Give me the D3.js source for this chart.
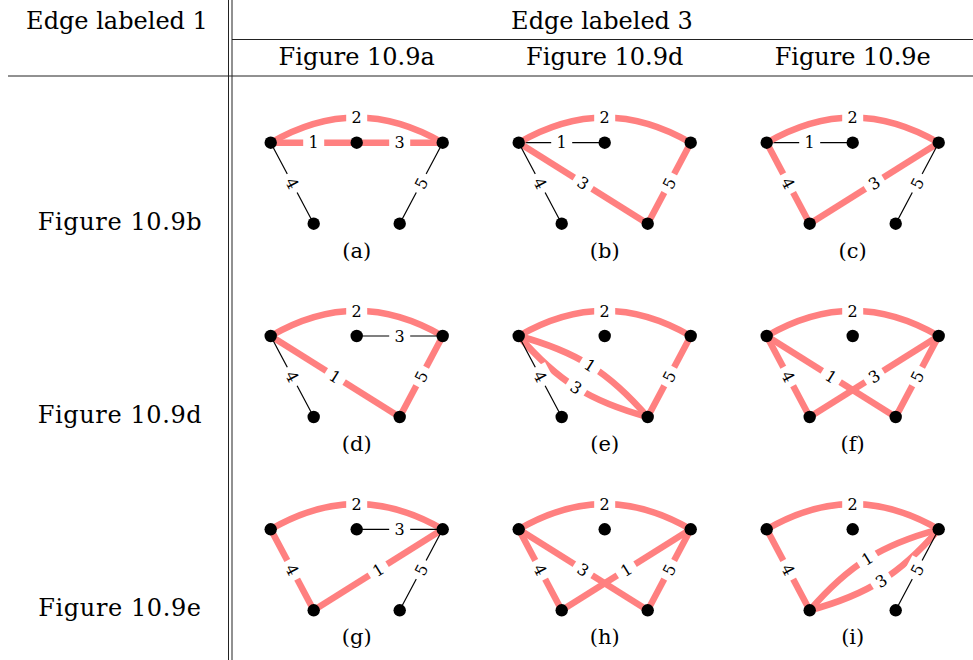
<!DOCTYPE html>
<html>
<head>
<meta charset="utf-8">
<script src="https://cdn.jsdelivr.net/npm/d3@7"></script>
<style>
  body { margin: 0; background: #fff; }
</style>
</head>
<body>
<svg id="chart" width="973" height="660"></svg>
<script>
const cornerHeader = 'Edge labeled 1';
const topHeader = 'Edge labeled 3';
const colHeaders = ['Figure 10.9a', 'Figure 10.9d', 'Figure 10.9e'];
const rowHeaders = ['Figure 10.9b', 'Figure 10.9d', 'Figure 10.9e'];
const captions = ['(a)', '(b)', '(c)', '(d)', '(e)', '(f)', '(g)', '(h)', '(i)'];

// five vertices on a small grid: top row left/mid/right, bottom row left/right
const nodeNames = ['TL', 'TM', 'TR', 'BL', 'BR'];
const nodeCol = [0, 2, 4, 1, 3];
const nodeRow = [1, 1, 1, 0, 0];

// per panel: [edge label, from, to, in the tree (1) or not (0), bend]
const panelEdges = [
  [[1, 'TL', 'TM', 1, ''], [2, 'TL', 'TR', 1, 'arc'], [3, 'TM', 'TR', 1, ''], [4, 'TL', 'BL', 0, ''], [5, 'TR', 'BR', 0, '']],
  [[1, 'TL', 'TM', 0, ''], [2, 'TL', 'TR', 1, 'arc'], [3, 'TL', 'BR', 1, ''], [4, 'TL', 'BL', 0, ''], [5, 'TR', 'BR', 1, '']],
  [[1, 'TL', 'TM', 0, ''], [2, 'TL', 'TR', 1, 'arc'], [3, 'BL', 'TR', 1, ''], [4, 'TL', 'BL', 1, ''], [5, 'TR', 'BR', 0, '']],
  [[1, 'TL', 'BR', 1, ''], [2, 'TL', 'TR', 1, 'arc'], [3, 'TM', 'TR', 0, ''], [4, 'TL', 'BL', 0, ''], [5, 'TR', 'BR', 1, '']],
  [[1, 'TL', 'BR', 1, 'left'], [2, 'TL', 'TR', 1, 'arc'], [3, 'TL', 'BR', 1, 'right'], [4, 'TL', 'BL', 0, ''], [5, 'TR', 'BR', 1, '']],
  [[1, 'TL', 'BR', 1, ''], [2, 'TL', 'TR', 1, 'arc'], [3, 'BL', 'TR', 1, ''], [4, 'TL', 'BL', 1, ''], [5, 'TR', 'BR', 1, '']],
  [[1, 'BL', 'TR', 1, ''], [2, 'TL', 'TR', 1, 'arc'], [3, 'TM', 'TR', 0, ''], [4, 'TL', 'BL', 1, ''], [5, 'TR', 'BR', 0, '']],
  [[1, 'BL', 'TR', 1, ''], [2, 'TL', 'TR', 1, 'arc'], [3, 'TL', 'BR', 1, ''], [4, 'TL', 'BL', 1, ''], [5, 'TR', 'BR', 1, '']],
  [[1, 'BL', 'TR', 1, 'left'], [2, 'TL', 'TR', 1, 'arc'], [3, 'BL', 'TR', 1, 'right'], [4, 'TL', 'BL', 1, ''], [5, 'TR', 'BR', 0, '']]
];

const svg = d3.select('#chart');
const W = 973, H = 660;
const serif = 'DejaVu Serif';

const colX = d3.scalePoint().domain(colHeaders).range([356.7, 852.7]);
const rowY = d3.scalePoint().domain(rowHeaders).range([142.7, 529.3]);
const gx = d3.scaleLinear().domain([0, 4]).range([-86, 86]);
const gy = d3.scaleLinear().domain([0, 1]).range([81, 0]);

const treeColor = '#ff8080';
const bendAngle = { arc: 30, left: 17, right: -17 };

// ---- table rules ----
const rules = svg.append('g').attr('stroke', '#222').attr('stroke-width', 1);
rules.append('line').attr('x1', 228.5).attr('x2', 228.5).attr('y1', 0).attr('y2', H);
rules.append('line').attr('x1', 232).attr('x2', 232).attr('y1', 0).attr('y2', H);
rules.append('line').attr('x1', 232).attr('x2', W).attr('y1', 39.5).attr('y2', 39.5);
rules.append('line').attr('x1', 8).attr('x2', W).attr('y1', 76).attr('y2', 76);

// ---- headers ----
const head = svg.append('g').attr('text-anchor', 'middle')
  .attr('font-family', serif).attr('font-size', 24);
head.append('text').attr('x', 117).attr('y', 29).text(cornerHeader);
head.append('text').attr('x', 602).attr('y', 29).text(topHeader);
head.selectAll('.colh').data(colHeaders).enter().append('text')
  .attr('class', 'colh')
  .attr('x', d => colX(d)).attr('y', 65).text(d => d);
head.selectAll('.rowh').data(rowHeaders).enter().append('text')
  .attr('class', 'rowh')
  .attr('letter-spacing', 0.6)
  .attr('x', 120).attr('y', d => rowY(d) + 87).text(d => d);

// ---- graph panels ----
function nodePos(name) {
  const i = nodeNames.indexOf(name);
  return [gx(nodeCol[i]), gy(nodeRow[i])];
}

function edgeGeom(e) {
  const p = nodePos(e[1]), q = nodePos(e[2]);
  const dx = q[0] - p[0], dy = q[1] - p[1];
  let ang = Math.atan2(dy, dx) * 180 / Math.PI;
  if (ang > 90) ang -= 180;
  if (ang <= -90) ang += 180;
  if (!e[4]) {
    return { d: `M${p}L${q}`, mx: (p[0] + q[0]) / 2, my: (p[1] + q[1]) / 2, ang };
  }
  // tikz style bend: cubic with controls at the bend angle, 0.3915 of the distance out
  const len = Math.hypot(dx, dy);
  const ux = dx / len, uy = dy / len, nx = uy, ny = -ux;
  const th = bendAngle[e[4]] * Math.PI / 180;
  const L = 0.3915 * len, c = Math.cos(th), s = Math.sin(th);
  const c1 = [p[0] + L * (c * ux + s * nx), p[1] + L * (c * uy + s * ny)];
  const c2 = [q[0] + L * (-c * ux + s * nx), q[1] + L * (-c * uy + s * ny)];
  const path = d3.path();
  path.moveTo(p[0], p[1]);
  path.bezierCurveTo(c1[0], c1[1], c2[0], c2[1], q[0], q[1]);
  return {
    d: path.toString(),
    mx: (p[0] + 3 * c1[0] + 3 * c2[0] + q[0]) / 8,
    my: (p[1] + 3 * c1[1] + 3 * c2[1] + q[1]) / 8,
    ang
  };
}

panelEdges.forEach((edges, k) => {
  const cx = colX(colHeaders[k % 3]);
  const cy = rowY(rowHeaders[Math.floor(k / 3)]);
  const g = svg.append('g').attr('transform', `translate(${cx},${cy})`);

  edges.forEach(e => {
    const geo = edgeGeom(e);
    g.append('path')
      .attr('d', geo.d)
      .attr('fill', 'none')
      .attr('stroke', e[3] ? treeColor : '#000')
      .attr('stroke-width', e[3] ? 6.5 : 1.2);
    const lab = g.append('g')
      .attr('transform', `translate(${geo.mx},${geo.my}) rotate(${geo.ang})`);
    lab.append('rect')
      .attr('x', -10.5).attr('y', -11).attr('width', 21).attr('height', 22)
      .attr('fill', '#fff');
    lab.append('text')
      .attr('text-anchor', 'middle')
      .attr('dy', '0.36em')
      .attr('font-family', serif)
      .attr('font-size', 16)
      .text(e[0]);
  });

  g.selectAll('circle').data(nodeNames).enter().append('circle')
    .attr('cx', d => nodePos(d)[0])
    .attr('cy', d => nodePos(d)[1])
    .attr('r', 6.2)
    .attr('fill', '#000');

  g.append('text')
    .attr('text-anchor', 'middle')
    .attr('x', 0).attr('y', 115)
    .attr('font-family', serif)
    .attr('font-size', 21)
    .text(captions[k]);
});
</script>
</body>
</html>
